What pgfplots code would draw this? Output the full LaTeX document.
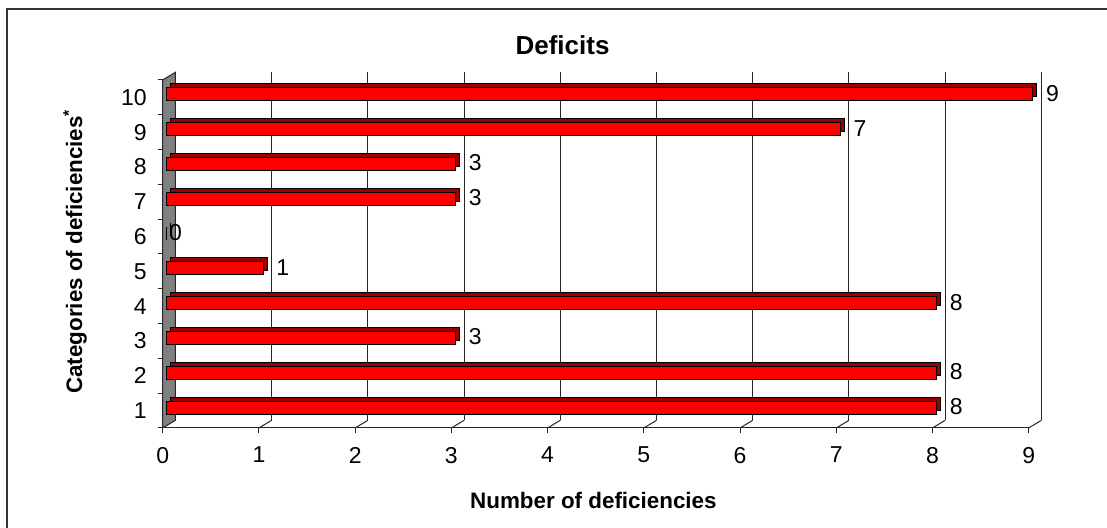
\documentclass[border=0pt]{standalone}
\usepackage{fontspec}
\setmainfont{Liberation Sans}
\usepackage{pgfplots}
\pgfplotsset{compat=1.18}
\definecolor{barred}{HTML}{FF0000}
\definecolor{bardark}{HTML}{990000}
\definecolor{wallgray}{HTML}{808080}
\begin{document}
\begin{tikzpicture}
\useasboundingbox (0,0) rectangle (553.5pt,264pt);
\draw[line width=1pt, black!80] (3.5pt,0) -- (3.5pt,259.5pt) -- (553.5pt,259.5pt);
\begin{axis}[
  at={(81.35pt,50pt)}, anchor=south west,
  scale only axis, width=433pt, height=174pt,
  xmin=0, xmax=9, ymin=0.5, ymax=10.5,
  clip=false,
  axis lines=left, axis line style={-, line width=0.5pt, black!85},
  xtick={0,...,9}, ytick={1,...,10},
  minor ytick={0.5,1.5,...,10.5},
  major y tick style={draw=none},
  tick align=outside,
  major tick length=2.5pt, minor tick length=2.5pt,
  tick style={black!85, line width=0.5pt},
  /pgf/number format/assume math mode=true,
  ticklabel style={font=\fontsize{11.5}{13}\selectfont},
  xticklabel style={yshift=-3.5pt},
  yticklabel style={xshift=-2pt},
]
% back wall grid and floor ticks
\pgfplotsinvokeforeach{1,...,9}{
  \draw[black!85, line width=0.5pt] ([shift={(6.35pt,3.85pt)}]axis cs:#1,0.5) -- ([shift={(6.35pt,3.85pt)}]axis cs:#1,10.5);
  \draw[black!85, line width=0.5pt] (axis cs:#1,0.5) -- ([shift={(6.35pt,3.85pt)}]axis cs:#1,0.5);
}
% left wall
\path[fill=wallgray, draw=black!85, line width=0.5pt] (axis cs:0,0.5) -- ([shift={(6.35pt,3.85pt)}]axis cs:0,0.5) -- ([shift={(6.35pt,3.85pt)}]axis cs:0,10.5) -- (axis cs:0,10.5) -- cycle;
% 3D depth faces
\addplot[xbar, bar width=6.5pt, bar shift=0pt, fill=bardark, draw=black, line width=0.4pt, xshift=4pt, yshift=3.5pt, forget plot]
  coordinates {(8,1) (8,2) (3,3) (8,4) (1,5) (0,6) (3,7) (3,8) (7,9) (9,10)};
% front faces
\addplot[xbar, bar width=6.5pt, bar shift=0pt, fill=barred, draw=black, line width=0.4pt, xshift=2pt, yshift=1.5pt,
  nodes near coords,
  visualization depends on={x \as \rawx},
  nodes near coords style={anchor=west, inner sep=0pt, xshift={(\rawx==0 ? 1 : 6.5)*1pt}, yshift=0.5pt, font=\fontsize{11.5}{13}\selectfont},
  point meta=x]
  coordinates {(8,1) (8,2) (3,3) (8,4) (1,5) (0,6) (3,7) (3,8) (7,9) (9,10)};
\end{axis}
\node[anchor=base, font=\bfseries\fontsize{13}{15}\selectfont] at (281.25pt,236.5pt) {Deficits};
\node[anchor=base, font=\bfseries\fontsize{11.2}{13}\selectfont] at (296.7pt,9.85pt) {Number of deficiencies};
\node[anchor=base, rotate=90, font=\bfseries\fontsize{11.2}{13}\selectfont] at (41pt,138.25pt) {Categories of deficiencies\textsuperscript{*}};
\end{tikzpicture}
\end{document}
